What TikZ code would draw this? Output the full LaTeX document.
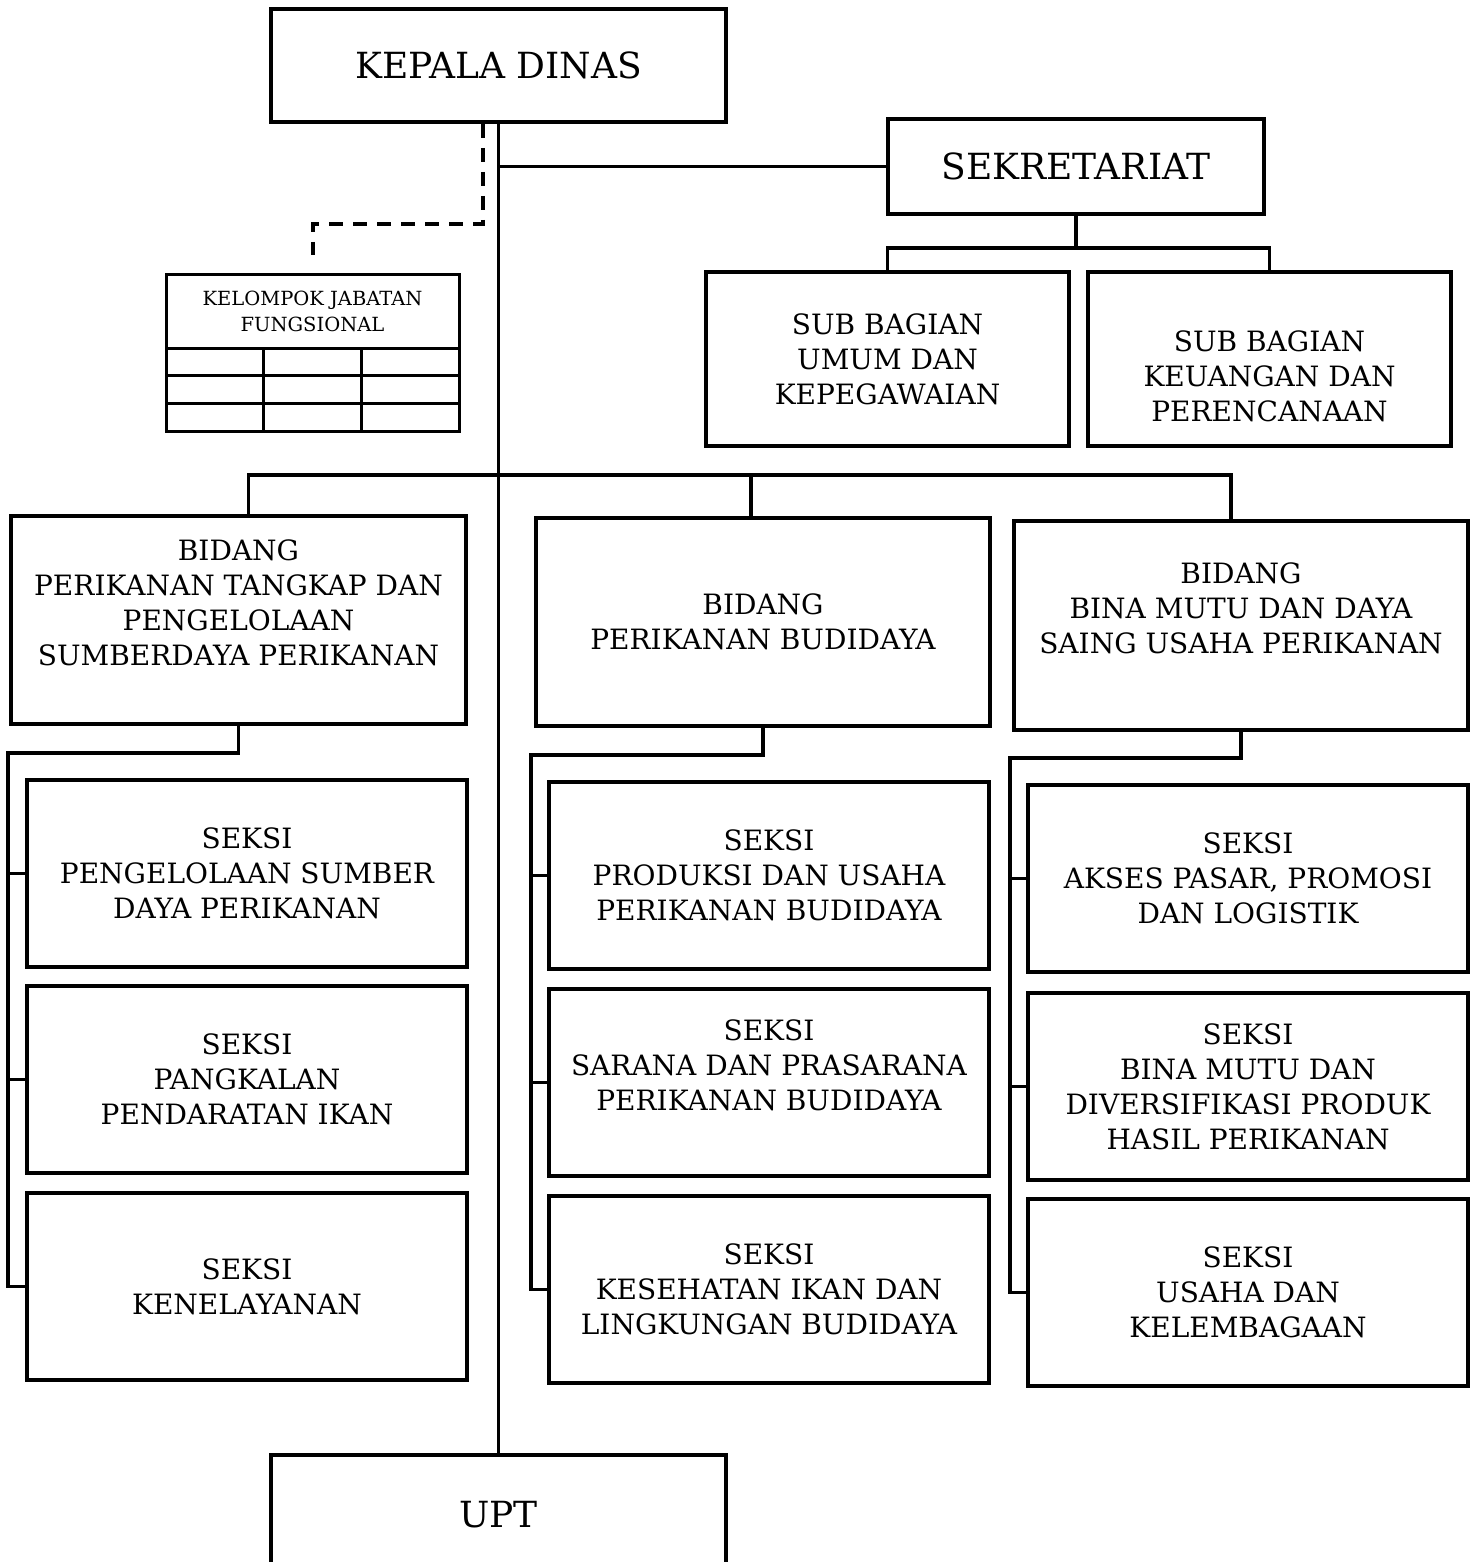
\documentclass[tikz,border=0pt]{standalone}
\usepackage{fontspec}
\setmainfont{DejaVu Serif}

\tikzset{
  unit/.style={draw, line width=4pt, inner sep=0pt, align=center, font=\fontsize{28}{35}\selectfont},
  head/.style={unit, font=\fontsize{36}{42}\selectfont},
  link/.style={line width=3.5pt},
  cell/.style={line width=3pt},
}

\begin{document}
\begin{tikzpicture}[x=1pt,y=-1pt]
\useasboundingbox (0,0) rectangle (1476,1562);

% pimpinan
\node[head, minimum width=455pt, minimum height=113pt] (KD) at (498.5,65.5) {KEPALA DINAS};
\node[head, minimum width=376pt, minimum height=95pt] (SK) at (1076,166.5) {SEKRETARIAT};
\node[head, minimum width=455pt, minimum height=120pt] (UPT) at (498.5,1515) {UPT};

% sekretariat
\node[unit, minimum width=363pt, minimum height=174pt] (SB1) at (887.5,359) {SUB BAGIAN\\UMUM DAN\\KEPEGAWAIAN};
\node[unit, minimum width=363pt, minimum height=174pt] (SB2) at (1269.5,359) {\rule{0pt}{20pt}\\SUB BAGIAN\\KEUANGAN DAN\\PERENCANAAN};

% jabatan fungsional
\node[unit, line width=3pt, outer sep=0pt, font=\fontsize{19.5}{26}\selectfont, minimum width=293pt, minimum height=74pt] (JF) at (312.5,311) {KELOMPOK JABATAN\\FUNGSIONAL};
\foreach \r in {0,1,2}
  \foreach \c in {0,1,2}
    \draw[cell] ([shift={(\c*97.67,\r*27.67)}]JF.south west) rectangle ++(97.67,27.67);

% bidang
\node[unit, minimum width=455pt, minimum height=208pt] (B1) at (238.5,620) {BIDANG\\PERIKANAN TANGKAP DAN\\PENGELOLAAN\\SUMBERDAYA PERIKANAN\\~};
\node[unit, minimum width=454pt, minimum height=208pt] (B2) at (763,622) {BIDANG\\PERIKANAN BUDIDAYA};
\node[unit, minimum width=454pt, minimum height=209pt] (B3) at (1241,625.5) {BIDANG\\BINA MUTU DAN DAYA\\SAING USAHA PERIKANAN\\~};

% seksi
\node[unit, minimum width=440pt, minimum height=187pt] (S11) at (247,873.5) {SEKSI\\PENGELOLAAN SUMBER\\DAYA PERIKANAN};
\node[unit, minimum width=440pt, minimum height=187pt] (S12) at (247,1079.5) {SEKSI\\PANGKALAN\\PENDARATAN IKAN};
\node[unit, minimum width=440pt, minimum height=187pt] (S13) at (247,1286.5) {SEKSI\\KENELAYANAN};

\node[unit, minimum width=440pt, minimum height=187pt] (S21) at (769,875.5) {SEKSI\\PRODUKSI DAN USAHA\\PERIKANAN BUDIDAYA};
\node[unit, minimum width=440pt, minimum height=187pt] (S22) at (769,1082.5) {SEKSI\\SARANA DAN PRASARANA\\PERIKANAN BUDIDAYA\\~};
\node[unit, minimum width=440pt, minimum height=187pt] (S23) at (769,1289.5) {SEKSI\\KESEHATAN IKAN DAN\\LINGKUNGAN BUDIDAYA};

\node[unit, minimum width=440pt, minimum height=187pt] (S31) at (1248,878.5) {SEKSI\\AKSES PASAR, PROMOSI\\DAN LOGISTIK};
\node[unit, minimum width=440pt, minimum height=187pt] (S32) at (1248,1086.5) {SEKSI\\BINA MUTU DAN\\DIVERSIFIKASI PRODUK\\HASIL PERIKANAN};
\node[unit, minimum width=440pt, minimum height=187pt] (S33) at (1248,1292.5) {SEKSI\\USAHA DAN\\KELEMBAGAAN};

% garis komando
\draw[link] (KD.south) -- (UPT.north);
\draw[link] (KD.south |- SK.west) -- (SK.west);
\draw[link] (SK.south) -- ++(0,32) coordinate (sk);
\draw[link] (SB1.north) |- (sk) -| (SB2.north);

% garis koordinasi
\coordinate (dash) at ([xshift=-16pt]KD.south);
\draw[link, line width=4pt, dash pattern=on 14pt off 10pt] (dash) -- ++(0,100) -| ([yshift=19pt]JF.north);

% bidang
\coordinate (bus) at (498.5,475);
\coordinate (b2top) at ([xshift=-12pt]B2.north);
\draw[link] ([xshift=10pt]B1.north) |- (bus) -| ([xshift=-10pt]B3.north);
\draw[link] (b2top) -- (b2top |- bus);

% seksi
\coordinate (k1) at (8,753);
\draw[link] (B1.south) |- (k1) |- (S13.west);
\draw[link] (k1 |- S11.west) -- (S11.west);
\draw[link] (k1 |- S12.west) -- (S12.west);

\coordinate (k2) at (531,755);
\draw[link] (B2.south) |- (k2) |- (S23.west);
\draw[link] (k2 |- S21.west) -- (S21.west);
\draw[link] (k2 |- S22.west) -- (S22.west);

\coordinate (k3) at (1010,758);
\draw[link] (B3.south) |- (k3) |- (S33.west);
\draw[link] (k3 |- S31.west) -- (S31.west);
\draw[link] (k3 |- S32.west) -- (S32.west);

\end{tikzpicture}
\end{document}
